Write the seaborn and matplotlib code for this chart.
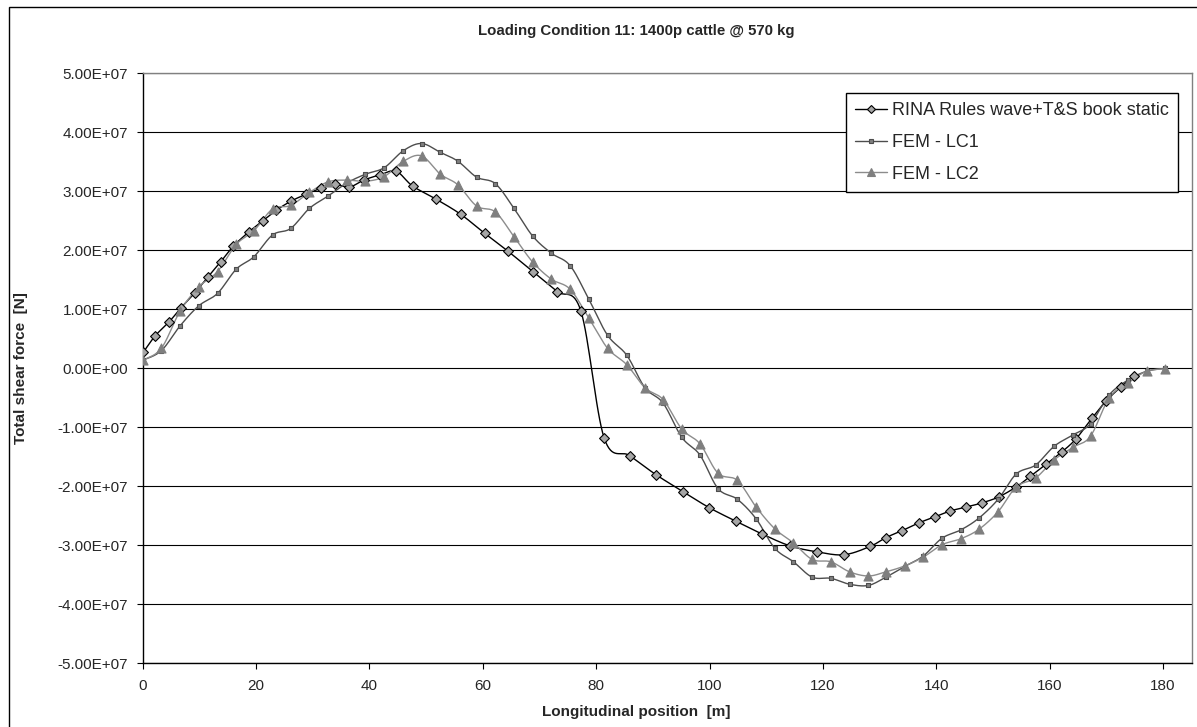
import numpy as np
import pandas as pd
import seaborn as sns
import matplotlib
matplotlib.use('Agg')
import matplotlib.pyplot as plt
from matplotlib.lines import Line2D
from matplotlib.patches import Rectangle
from matplotlib.ticker import FuncFormatter, MultipleLocator

# RINA rules (diamonds)
rina_x = [0.1, 2.2, 4.6, 6.8, 9.2, 11.5, 13.8, 16.0, 18.7, 21.2, 23.6, 26.1, 28.8, 31.4,
          33.9, 36.4, 39.0, 41.9, 44.7, 47.6, 51.7, 56.1, 60.3, 64.5, 68.8, 73.1, 77.3,
          81.4, 85.9, 90.5, 95.3, 99.9, 104.6, 109.3, 114.2, 118.9, 123.7, 128.3, 131.1,
          134.0, 136.9, 139.7, 142.4, 145.3, 148.1, 151.0, 154.1, 156.6, 159.3, 162.1,
          164.6, 167.5, 170.0, 172.5, 174.9]
rina_y = [0.27, 0.55, 0.78, 1.03, 1.28, 1.55, 1.81, 2.07, 2.31, 2.50, 2.68, 2.83, 2.95, 3.05,
          3.12, 3.07, 3.19, 3.28, 3.34, 3.09, 2.87, 2.61, 2.29, 1.98, 1.64, 1.30, 0.97,
          -1.18, -1.48, -1.80, -2.09, -2.36, -2.59, -2.81, -3.01, -3.11, -3.16, -3.02, -2.87,
          -2.75, -2.62, -2.52, -2.42, -2.35, -2.28, -2.18, -2.01, -1.83, -1.63, -1.42,
          -1.20, -0.84, -0.55, -0.32, -0.13]

# FEM stations (shared by LC1 and LC2)
fem_x = [0.1, 3.3, 6.6, 9.9, 13.2, 16.5, 19.6, 22.9, 26.1, 29.4, 32.7, 36.0, 39.3, 42.6,
         46.0, 49.2, 52.5, 55.6, 58.9, 62.2, 65.5, 68.8, 72.1, 75.4, 78.7, 82.0, 85.4,
         88.6, 91.8, 95.1, 98.3, 101.5, 104.9, 108.2, 111.5, 114.8, 118.1, 121.4, 124.7,
         128.0, 131.1, 134.4, 137.7, 141.0, 144.3, 147.5, 150.9, 154.1, 157.5, 160.8,
         164.1, 167.2, 170.5, 173.8, 177.1, 180.4]
lc1_y = [0.14, 0.30, 0.72, 1.06, 1.27, 1.68, 1.89, 2.26, 2.37, 2.71, 2.92, 3.14, 3.29, 3.40,
         3.69, 3.81, 3.66, 3.51, 3.24, 3.13, 2.71, 2.24, 1.95, 1.74, 1.17, 0.56, 0.22,
         -0.33, -0.59, -1.17, -1.47, -2.04, -2.22, -2.55, -3.05, -3.28, -3.54, -3.56, -3.66,
         -3.68, -3.54, -3.36, -3.18, -2.88, -2.74, -2.54, -2.22, -1.79, -1.64, -1.32,
         -1.13, -0.94, -0.45, -0.20, -0.05, 0.00]
lc2_y = [0.14, 0.34, 0.97, 1.38, 1.64, 2.10, 2.33, 2.70, 2.76, 2.98, 3.16, 3.19, 3.17, 3.25,
         3.51, 3.60, 3.29, 3.11, 2.75, 2.65, 2.23, 1.80, 1.51, 1.34, 0.85, 0.34, 0.06,
         -0.33, -0.53, -1.03, -1.28, -1.78, -1.90, -2.35, -2.72, -2.96, -3.24, -3.28, -3.45,
         -3.52, -3.45, -3.35, -3.20, -2.99, -2.89, -2.73, -2.43, -2.01, -1.86, -1.55,
         -1.34, -1.15, -0.50, -0.25, -0.05, -0.01]

scale = 1e7

series = [
    ("RINA Rules wave+T&S book static", rina_x, rina_y, "black", "D", 5, "#a6a6a6", "black"),
    ("FEM - LC1", fem_x, lc1_y, "#4d4d4d", "s", 3.2, "#808080", "#4d4d4d"),
    ("FEM - LC2", fem_x, lc2_y, "#8c8c8c", "^", 6.5, "#7f7f7f", "#7f7f7f"),
]


def smooth(x, y, n=16):
    # excel-style smoothed line (bezier through the points)
    pts = np.column_stack([x, y])
    P = np.vstack([pts[0], pts, pts[-1]])
    out = []
    t = np.linspace(0, 1, n, endpoint=False)[:, None]
    for i in range(1, len(P) - 2):
        p0, p1, p2, p3 = P[i - 1], P[i], P[i + 1], P[i + 2]
        b1 = p1 + (p2 - p0) / 6
        b2 = p2 - (p3 - p1) / 6
        seg = (1 - t) ** 3 * p1 + 3 * (1 - t) ** 2 * t * b1 + 3 * (1 - t) * t ** 2 * b2 + t ** 3 * p2
        out.append(seg)
    out.append(pts[-1:])
    return np.vstack(out)


sns.set_style("white")
plt.rcParams['font.family'] = ['Liberation Sans', 'DejaVu Sans']

W, H = 1197, 727
L, R, T, B = 142.7, 1192, 73.3, 663.3
fig = plt.figure(figsize=(W / 100, H / 100), dpi=100)
ax = fig.add_axes([L / W, 1 - B / H, (R - L) / W, (B - T) / H])

handles = []
for name, xs, ys, lc, mk, ms, mfc, mec in series:
    yv = np.array(ys) * scale
    curve = smooth(np.array(xs), yv)
    df = pd.DataFrame({"x": curve[:, 0], "y": curve[:, 1]})
    sns.lineplot(data=df, x="x", y="y", sort=False, estimator=None, color=lc, lw=1.0, ax=ax, zorder=3)
    pts = pd.DataFrame({"x": xs, "y": yv})
    sns.scatterplot(data=pts, x="x", y="y", marker=mk, s=ms ** 2, color=mfc, edgecolor=mec,
                    linewidth=0.8, ax=ax, zorder=4)
    handles.append(Line2D([], [], color=lc, lw=1.0, marker=mk, ms=ms * 0.8, mfc=mfc, mec=mec,
                          mew=0.8, label=name))

ax.set_xlim(0, 185.1)
ax.set_ylim(-5e7, 5e7)
ax.set_xticks(np.arange(0, 181, 20))
ax.yaxis.set_major_locator(MultipleLocator(1e7))
ax.yaxis.set_major_formatter(FuncFormatter(lambda v, p: f"{v:.2E}"))
ax.grid(axis='y', color='black', lw=0.8)
ax.set_axisbelow(True)
ax.tick_params(axis='both', direction='out', length=4.5, width=0.8, color='black',
               labelsize=11, bottom=True, left=True)
ax.tick_params(axis='y', pad=6)
ax.tick_params(axis='x', pad=7)
for s in ['left', 'bottom']:
    ax.spines[s].set_color('black')
    ax.spines[s].set_linewidth(1.0)
for s in ['top', 'right']:
    ax.spines[s].set_color('#808080')
    ax.spines[s].set_linewidth(1.0)

ax.set_xlabel("Longitudinal position  [m]", fontsize=11, fontweight='bold')
ax.xaxis.label.set_va('center')
ax.xaxis.set_label_coords((636 - L) / (R - L), -(712 - B) / (B - T))
ax.set_ylabel("Total shear force  [N]", fontsize=11, fontweight='bold')
ax.yaxis.label.set_va('center')
ax.yaxis.set_label_coords(-(L - 21) / (R - L), 0.5)
fig.text(636 / W, 1 - 31 / H, "Loading Condition 11: 1400p cattle @ 570 kg",
         ha='center', va='center', fontsize=10.8, fontweight='bold')

leg = fig.legend(handles=handles, loc='upper left', bbox_to_anchor=(845.5 / W, 1 - 92.7 / H),
                 frameon=True, fancybox=False, edgecolor='black', fontsize=13,
                 handlelength=1.77, handletextpad=0.26, labelspacing=0.82, borderpad=0.52,
                 borderaxespad=0)
leg.get_frame().set_linewidth(1.0)
leg.get_frame().set_alpha(1)

fig.patches.append(Rectangle((9 / W, -0.05), (1300 - 9) / W, 1 - 7 / H + 0.05, transform=fig.transFigure,
                             fill=False, edgecolor='black', lw=1.0))

fig.savefig("out.png", dpi=100)
